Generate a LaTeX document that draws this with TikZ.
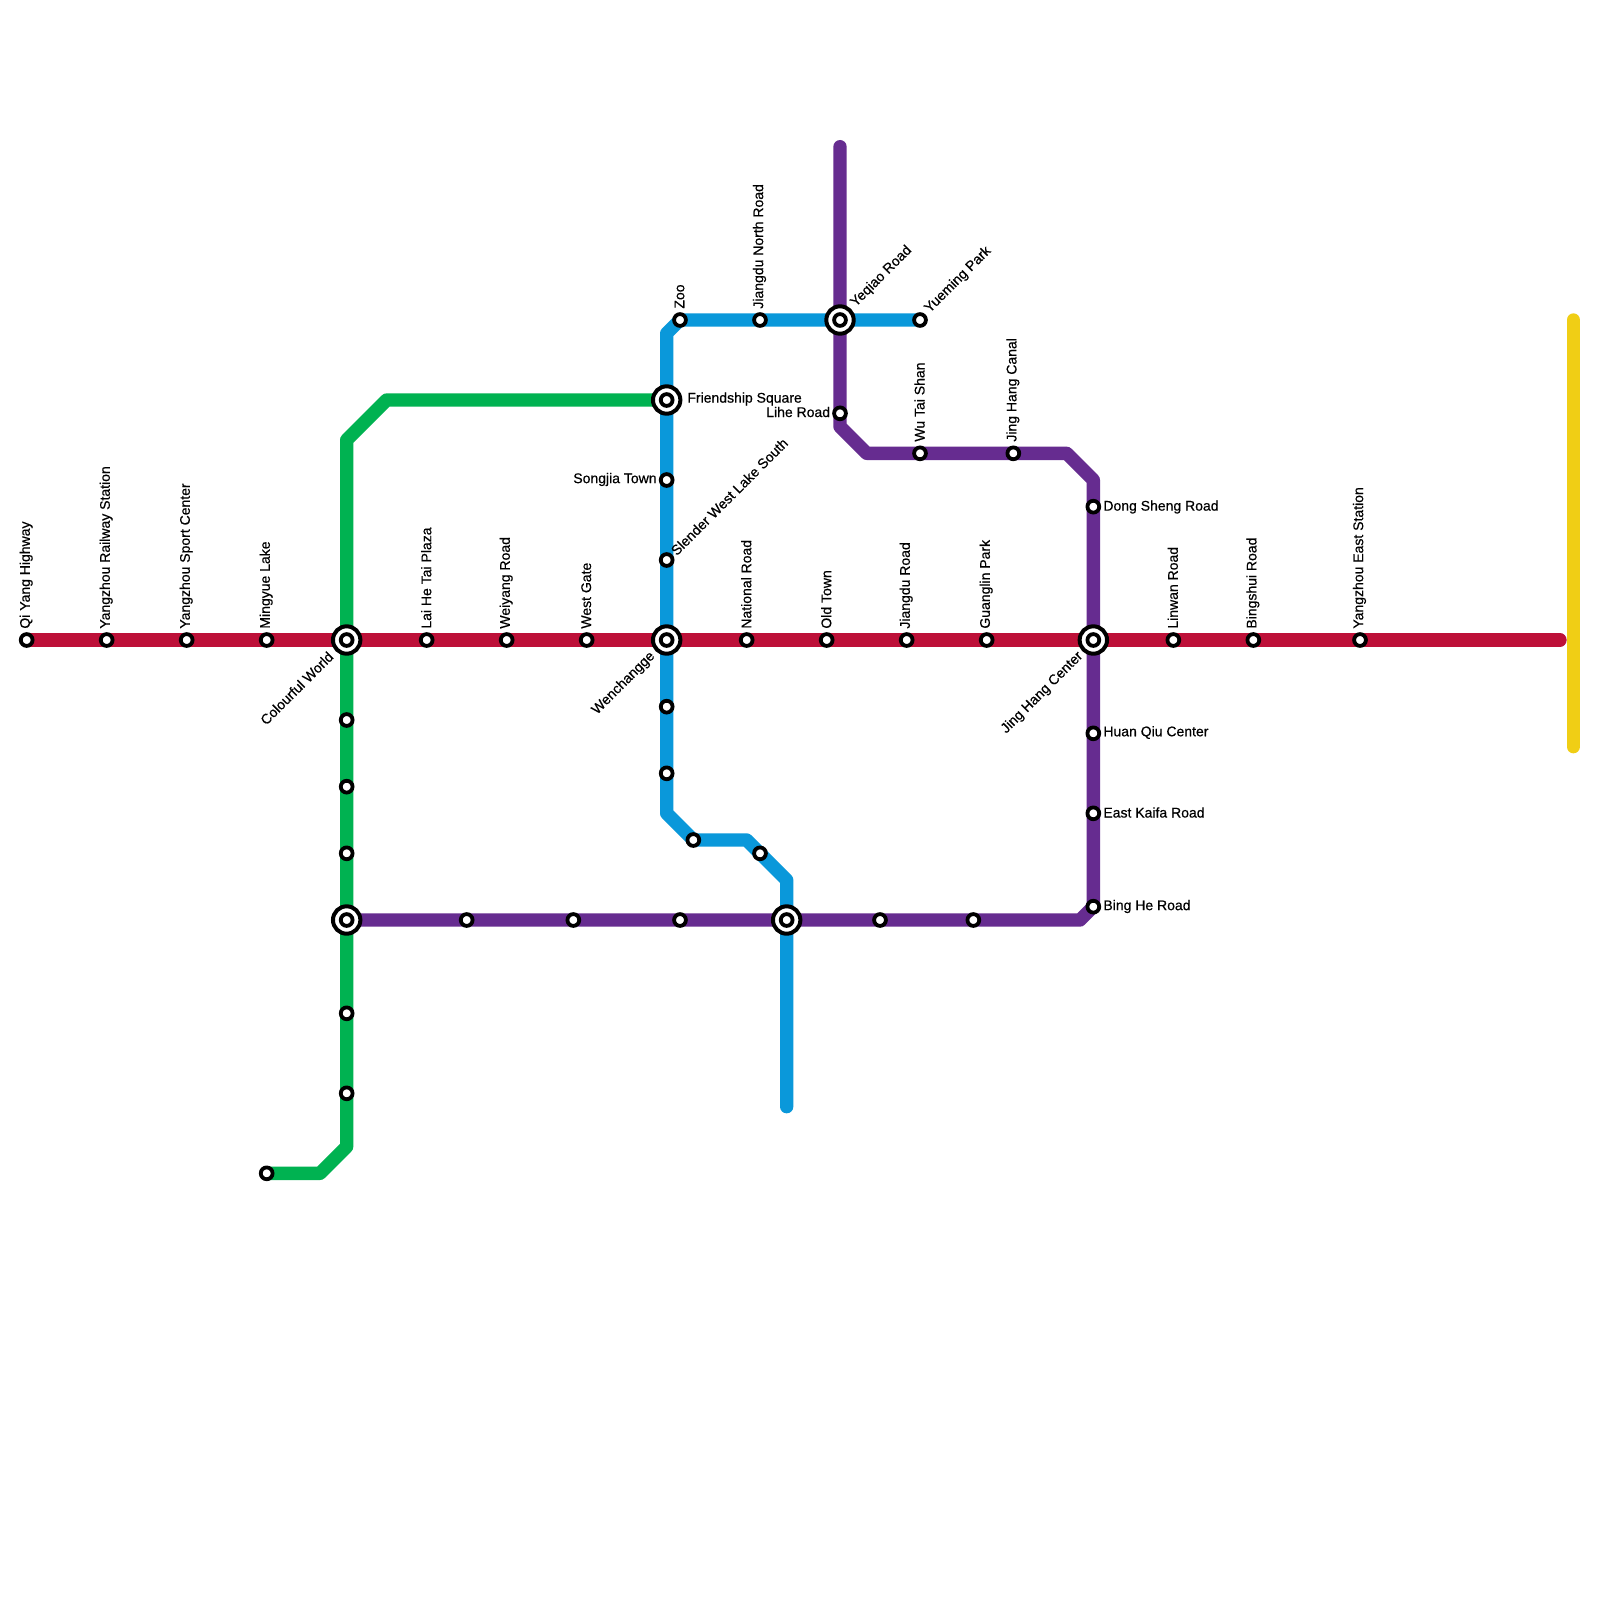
\documentclass[tikz,border=0pt]{standalone}
\usepackage{fontspec}
\setmainfont[RawFeature={embolden=0.5}]{Liberation Sans}
\definecolor{lred}{HTML}{BD1038}
\definecolor{lgreen}{HTML}{00B251}
\definecolor{lblue}{HTML}{0A98DA}
\definecolor{lpurple}{HTML}{662C90}
\definecolor{lyellow}{HTML}{F0CE15}
\tikzset{
  metro/.style={line width=6.67pt,line cap=round,line join=round},
  stn/.style={circle,draw=black,fill=white,line width=1.9pt,minimum size=5.9pt,inner sep=0pt},
  hub/.style={circle,draw=black,fill=white,line width=2pt,minimum size=13.7pt,inner sep=0pt},
  lab/.style={inner sep=0pt,font=\fontsize{7pt}{8pt}\selectfont,text=black},
  up/.style={lab,rotate=90,anchor=west},
  diag/.style={lab,rotate=45,anchor=west},
  diagb/.style={lab,rotate=45,anchor=east},
  rgt/.style={lab,anchor=west},
  lft/.style={lab,anchor=east}
}
\begin{document}
\begin{tikzpicture}[x=0.5pt,y=-0.5pt]
\useasboundingbox (0,0) rectangle (1600,1600);
\fill[white] (0,0) rectangle (1600,1600);
% corner and end points
\coordinate (redend) at (1560,640);
\coordinate (g1) at (320,1173.33);
\coordinate (g2) at (346.67,1146.67);
\coordinate (g3) at (346.67,440);
\coordinate (g4) at (386.67,400);
\coordinate (b1) at (786.67,1106.67);
\coordinate (b2) at (786.67,880);
\coordinate (b3) at (746.67,840);
\coordinate (b4) at (666.67,813.33);
\coordinate (b5) at (666.67,333.33);
\coordinate (p1) at (840,146.67);
\coordinate (p2) at (840,426.67);
\coordinate (p3) at (866.67,453.33);
\coordinate (p4) at (1066.67,453.33);
\coordinate (p5) at (1093.33,480);
\coordinate (p6) at (1080,920);
\coordinate (p7) at (1093.33,906.67);
\coordinate (y1) at (1573.33,320);
\coordinate (y2) at (1573.33,746.67);
% station positions
\coordinate (qi) at (26.67,640);
\coordinate (hubA) at (346.67,640);
\coordinate (hubB) at (666.67,640);
\coordinate (hubC) at (1093.33,640);
\coordinate (hubD) at (346.67,920);
\coordinate (hubE) at (786.67,920);
\coordinate (hubF) at (666.67,400);
\coordinate (hubG) at (840,320);
\coordinate (zoo) at (680,320);
\coordinate (yue) at (920,320);
\coordinate (gend) at (266.67,1173.33);
\coordinate (bmid) at (693.33,840);
% lines
\draw[metro,lyellow] (y1) -- (y2);
\draw[metro,lred] (qi) -- (redend);
\draw[metro,lgreen] (gend) -- (g1) -- (g2) -- (g3) -- (g4) -- (hubF);
\draw[metro,lblue] (b1) -- (b2) -- (b3) -- (bmid) -- (b4) -- (b5) -- (zoo) -- (yue);
\draw[metro,lpurple] (p1) -- (p2) -- (p3) -- (p4) -- (p5) -- (p7) -- (p6) -- (hubD);
% interchanges
\foreach \n in {hubA,hubB,hubC,hubD,hubE,hubF,hubG}{
  \node[hub] (\n o) at (\n) {};
  \node[stn] (\n i) at (\n) {};
}
% stations
\node[stn] (sqi) at (qi) {};
\node[stn] (srail) at (106.67,640) {};
\node[stn] (ssport) at (186.67,640) {};
\node[stn] (sming) at (266.67,640) {};
\node[stn] (slai) at (426.67,640) {};
\node[stn] (swei) at (506.67,640) {};
\node[stn] (swest) at (586.67,640) {};
\node[stn] (snat) at (746.67,640) {};
\node[stn] (sold) at (826.67,640) {};
\node[stn] (sjiang) at (906.67,640) {};
\node[stn] (sguang) at (986.67,640) {};
\node[stn] (slin) at (1173.33,640) {};
\node[stn] (sbing) at (1253.33,640) {};
\node[stn] (seast) at (1360,640) {};
\node[stn] (g5) at (346.67,720) {};
\node[stn] (g6) at (346.67,786.67) {};
\node[stn] (g7) at (346.67,853.33) {};
\node[stn] (g8) at (346.67,1013.33) {};
\node[stn] (g9) at (346.67,1093.33) {};
\node[stn] (g10) at (gend) {};
\node[stn] (szoo) at (zoo) {};
\node[stn] (sjn) at (760,320) {};
\node[stn] (syue) at (yue) {};
\node[stn] (ssong) at (666.67,480) {};
\node[stn] (sslen) at (666.67,560) {};
\node[stn] (b6) at (666.67,706.67) {};
\node[stn] (b7) at (666.67,773.33) {};
\node[stn] (b8) at (bmid) {};
\node[stn] (b9) at (760,853.33) {};
\node[stn] (slihe) at (840,413.33) {};
\node[stn] (swu) at (920,453.33) {};
\node[stn] (scanal) at (1013.33,453.33) {};
\node[stn] (sdong) at (1093.33,506.67) {};
\node[stn] (shuan) at (1093.33,733.33) {};
\node[stn] (skai) at (1093.33,813.33) {};
\node[stn] (sbh) at (1093.33,906.67) {};
\node[stn] (p8) at (973.33,920) {};
\node[stn] (p9) at (880,920) {};
\node[stn] (p10) at (680,920) {};
\node[stn] (p11) at (573.33,920) {};
\node[stn] (p12) at (466.67,920) {};
% labels
\node[up] (l1) at (26.2,629) {Qi Yang Highway};
\node[up] (l2) at (106.2,629) {Yangzhou Railway Station};
\node[up] (l3) at (186.2,629) {Yangzhou Sport Center};
\node[up] (l4) at (266.2,629) {Mingyue Lake};
\node[up] (l5) at (426.2,629) {Lai He Tai Plaza};
\node[up] (l6) at (506.2,629) {Weiyang Road};
\node[up] (l7) at (586.2,629) {West Gate};
\node[up] (l8) at (746.2,629) {National Road};
\node[up] (l9) at (826.2,629) {Old Town};
\node[up] (l10) at (906.2,629) {Jiangdu Road};
\node[up] (l11) at (986.2,629) {Guanglin Park};
\node[up] (l12) at (1172.8,629) {Linwan Road};
\node[up] (l13) at (1252.8,629) {Bingshui Road};
\node[up] (l14) at (1359.5,629) {Yangzhou East Station};
\node[up] (l15) at (679.5,309) {Zoo};
\node[up] (l16) at (759.5,309) {Jiangdu North Road};
\node[up] (l17) at (919.5,442) {Wu Tai Shan};
\node[up] (l18) at (1012.8,442) {Jing Hang Canal};
\node[diag] (l19) at (853,305) {Yeqiao Road};
\node[diag] (l20) at (927,311) {Yueming Park};
\node[diag] (l21) at (673,553) {Slender West Lake South};
\node[diagb] (l22) at (331,654) {Colourful World};
\node[diagb] (l23) at (653,654) {Wenchangge};
\node[diagb] (l24) at (1081,654) {Jing Hang Center};
\node[rgt] (l25) at (687,399) {Friendship Square};
\node[lft] (l26) at (830.5,412) {Lihe Road};
\node[lft] (l27) at (657,479.5) {Songjia Town};
\node[rgt] (l28) at (1103,507) {Dong Sheng Road};
\node[rgt] (l29) at (1103,732.5) {Huan Qiu Center};
\node[rgt] (l30) at (1103,812.5) {East Kaifa Road};
\node[rgt] (l31) at (1103,906.5) {Bing He Road};
\end{tikzpicture}
\end{document}
